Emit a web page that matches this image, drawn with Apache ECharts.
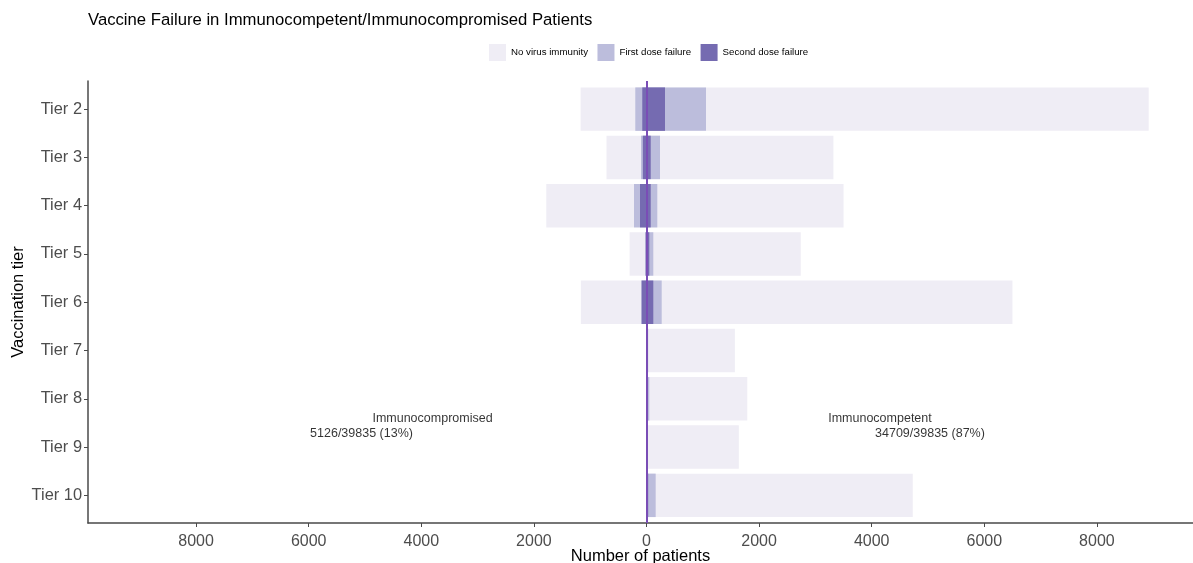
<!DOCTYPE html>
<html>
<head>
<meta charset="utf-8">
<title>Vaccine Failure in Immunocompetent/Immunocompromised Patients</title>
<script src="https://cdn.jsdelivr.net/npm/echarts@6/dist/echarts.min.js"></script>
<style>
  html, body { margin: 0; padding: 0; background: #fff; }
  #chart { width: 1193px; height: 563px; }
</style>
</head>
<body>
<div id="chart"></div>
<script>
// Vaccination tiers, top to bottom
const tiers = ['Tier 2', 'Tier 3', 'Tier 4', 'Tier 5', 'Tier 6', 'Tier 7', 'Tier 8', 'Tier 9', 'Tier 10'];

// Immunocompetent patients (drawn to the right of zero)
const competentTotal  = [8920, 3320, 3500, 2740, 6500, 1570, 1790, 1640, 4729];
const competentFirst  = [1057, 240, 192, 121, 270, 30, 50, 27, 163];
const competentSecond = [329, 75, 75, 50, 121, 15, 20, 15, 30];

// Immunocompromised patients (drawn to the left of zero)
const compromisedTotal  = [1170, 710, 1780, 300, 1166, 0, 0, 0, 0];
const compromisedFirst  = [199, 98, 222, 20, 95, 0, 0, 0, 0];
const compromisedSecond = [75, 65, 115, 15, 85, 0, 0, 0, 0];

// Axis ticks (absolute patient counts, mirrored on both sides)
const xTicks = [-8000, -6000, -4000, -2000, 0, 2000, 4000, 6000, 8000];

// Group annotations: [x value, tier position, text]
const annotations = [
  [-3801, 6.435, 'Immunocompromised'],
  [-5062, 6.747, '5126/39835 (13%)'],
  [4147, 6.435, 'Immunocompetent'],
  [5035, 6.747, '34709/39835 (87%)']
];

const COLORS = { none: '#efedf5', first: '#bcbddc', second: '#756bb1' };
const NAMES = { none: 'No virus immunity', first: 'First dose failure', second: 'Second dose failure' };
const FONT = '"Liberation Sans", Arial, Helvetica, sans-serif';
const X_MIN = -9920, X_MAX = 9707;

const neg = arr => arr.map(v => -v);

function barSeries(name, color, data) {
  return {
    type: 'bar', name, data,
    xAxisIndex: 1, yAxisIndex: 1,
    barWidth: '90%', barGap: '-100%',
    itemStyle: { color },
    emphasis: { disabled: true },
    silent: true,
    animation: false
  };
}

const chart = echarts.init(document.getElementById('chart'), null, { renderer: 'canvas' });

chart.setOption({
  animation: false,
  backgroundColor: '#ffffff',
  textStyle: { fontFamily: FONT },
  title: {
    text: 'Vaccine Failure in Immunocompetent/Immunocompromised Patients',
    left: 88, top: 12, padding: 0,
    textStyle: { fontSize: 16.7, fontWeight: 'normal', color: '#000', fontFamily: FONT }
  },
  legend: {
    left: 489, top: 44, padding: 0,
    itemWidth: 17, itemHeight: 17, itemGap: 9.5,
    icon: 'rect',
    data: [NAMES.none, NAMES.first, NAMES.second],
    textStyle: { fontSize: 9.7, color: '#000', fontFamily: FONT },
    selectedMode: false
  },
  grid: [
    // full panel: axis lines, x ticks, reference line, annotations
    { left: 88, right: 0, top: 81, bottom: 40, outerBoundsMode: 'none', containLabel: false },
    // bar area: tier bands centred on the tick positions
    { left: 88, right: 0, top: 85, bottom: 43.5, outerBoundsMode: 'none', containLabel: false }
  ],
  xAxis: [
    {
      type: 'value', gridIndex: 0, min: X_MIN, max: X_MAX,
      name: 'Number of patients', nameLocation: 'middle', nameGap: 25,
      nameMoveOverlap: false,
      nameTextStyle: { fontSize: 16.5, color: '#000', fontFamily: FONT },
      axisLine: { show: true, onZero: false, lineStyle: { color: '#4a4a4a', width: 1.5 } },
      axisTick: { show: true, length: 4, customValues: xTicks, lineStyle: { color: '#4a4a4a' } },
      axisLabel: {
        customValues: xTicks, margin: 11,
        fontSize: 16, color: '#4d4d4d', fontFamily: FONT,
        formatter: v => String(Math.abs(v))
      },
      splitLine: { show: false }
    },
    {
      type: 'value', gridIndex: 1, min: X_MIN, max: X_MAX, show: false,
      axisLine: { onZero: false },
      splitLine: { show: false }
    }
  ],
  yAxis: [
    {
      type: 'value', gridIndex: 0, min: -0.6, max: 8.6, inverse: true,
      name: 'Vaccination tier', nameLocation: 'middle', nameGap: 61, nameRotate: 90,
      nameMoveOverlap: false,
      nameTextStyle: { fontSize: 16.5, color: '#000', fontFamily: FONT },
      axisLine: { show: true, onZero: false, lineStyle: { color: '#4a4a4a', width: 1.5 } },
      axisTick: { show: false }, axisLabel: { show: false },
      splitLine: { show: false }
    },
    {
      type: 'category', gridIndex: 1, data: tiers, inverse: true,
      axisLine: { show: false, onZero: false },
      axisTick: { show: true, length: 4, alignWithLabel: true, lineStyle: { color: '#4a4a4a' } },
      axisLabel: { margin: 6, fontSize: 16.4, color: '#4d4d4d', fontFamily: FONT },
      splitLine: { show: false }
    }
  ],
  series: [
    barSeries(NAMES.none, COLORS.none, neg(compromisedTotal)),
    barSeries(NAMES.none, COLORS.none, competentTotal),
    barSeries(NAMES.first, COLORS.first, neg(compromisedFirst)),
    barSeries(NAMES.first, COLORS.first, competentFirst),
    barSeries(NAMES.second, COLORS.second, neg(compromisedSecond)),
    barSeries(NAMES.second, COLORS.second, competentSecond),
    {
      type: 'scatter', xAxisIndex: 0, yAxisIndex: 0, z: 5,
      symbolSize: 0, silent: true, animation: false,
      data: annotations.map(a => ({ value: [a[0], a[1]], text: a[2] })),
      label: {
        show: true, position: 'inside',
        fontSize: 12.5, color: '#000', fontFamily: FONT,
        formatter: p => p.data.text
      },
      markLine: {
        silent: true, symbol: 'none', animation: false,
        label: { show: false },
        lineStyle: { color: '#7a4db6', width: 2, type: 'solid' },
        data: [{ xAxis: 0 }]
      }
    }
  ]
});
</script>
</body>
</html>
